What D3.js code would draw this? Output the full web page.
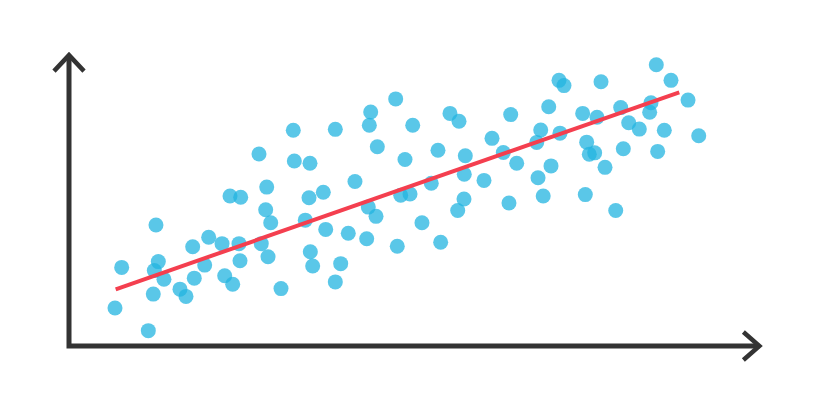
<!DOCTYPE html>
<html>
<head>
<meta charset="utf-8">
<script src="https://cdn.jsdelivr.net/npm/d3@7"></script>
<style>
  html, body { margin: 0; padding: 0; background: #ffffff; }
  svg { display: block; }
</style>
</head>
<body>
<svg id="chart" width="820" height="414"></svg>
<script>
// Data (arbitrary units 0-100 on both axes)
const xValues = [6.81,7.78,11.64,12.36,12.51,12.75,13.09,13.91,16.23,17.10,18.07,18.30,19.81,20.39,22.32,22.71,23.87,24.78,24.93,23.48,25.03,27.68,28.01,28.65,28.80,28.99,29.38,30.87,32.65,32.80,34.39,34.93,35.07,35.12,35.46,37.00,37.35,38.74,38.74,39.52,40.62,41.59,43.52,43.29,43.67,43.87,44.64,44.83,47.49,47.72,48.22,48.84,49.57,49.96,51.30,52.65,53.62,54.01,55.36,56.48,56.67,57.39,57.43,57.58,60.29,61.45,63.09,63.91,64.16,65.03,67.93,68.12,68.51,68.87,69.67,70.00,71.16,71.88,71.30,74.59,74.97,75.17,75.55,76.33,76.67,77.25,77.83,79.38,80.10,80.48,81.26,82.80,84.30,84.49,85.26,85.46,86.42,87.39,89.86,91.41];
const yValues = [13.1,27.1,5.3,17.9,26.0,41.7,29.1,23.0,19.6,17.1,34.2,23.4,27.9,37.5,35.3,24.2,21.3,35.3,29.4,51.7,51.3,66.2,35.3,47.0,54.8,30.8,42.5,19.8,74.4,63.8,43.4,51.1,63.0,32.5,27.6,53.0,40.2,74.7,22.1,28.4,38.9,56.7,47.9,37.0,76.1,80.7,44.7,68.7,85.2,34.4,52.0,64.3,52.4,76.1,42.5,56.1,67.5,35.8,80.2,46.7,77.5,50.7,59.2,65.6,57.1,71.6,66.7,49.3,79.8,63.0,70.2,58.0,74.5,51.7,82.5,62.1,91.6,89.8,73.4,80.2,52.2,70.3,66.1,66.6,78.9,91.1,61.6,46.7,82.2,68.0,77.0,74.8,80.6,83.9,97.0,67.1,74.4,91.6,84.8,72.5];
// Trend line endpoints
const trendX = [6.91, 88.59];
const trendY = [19.55, 87.48];

const points = xValues.map((x, i) => ({ x, y: yValues[i] }));
const trend = trendX.map((x, i) => ({ x, y: trendY[i] }));

const svg = d3.select("#chart");
const x = d3.scaleLinear().domain([0, 100]).range([68, 758]);
const y = d3.scaleLinear().domain([0, 100]).range([346, 56]);

// Axes with arrow heads
const axisColor = "#333333";
const x0 = x(0) + 1, y0 = y(0);
const yTop = y(100.3), xRight = x(100.2);
svg.append("path")
  .attr("d", `M${x0},${yTop} L${x0},${y0} L${xRight},${y0}`)
  .attr("fill", "none").attr("stroke", axisColor)
  .attr("stroke-width", 5).attr("stroke-linejoin", "miter");
svg.append("path")
  .attr("d", `M${x0 - 15},${yTop + 16} L${x0},${yTop} L${x0 + 15},${yTop + 16}`)
  .attr("fill", "none").attr("stroke", axisColor)
  .attr("stroke-width", 4.5).attr("stroke-linejoin", "miter");
svg.append("path")
  .attr("d", `M${xRight - 16},${y0 - 14} L${xRight},${y0} L${xRight - 16},${y0 + 14}`)
  .attr("fill", "none").attr("stroke", axisColor)
  .attr("stroke-width", 4.5).attr("stroke-linejoin", "miter");

// Points
svg.append("g").selectAll("circle").data(points).join("circle")
  .attr("cx", d => x(d.x))
  .attr("cy", d => y(d.y))
  .attr("r", 7.5)
  .attr("fill", "#23b4e0")
  .attr("fill-opacity", 0.75);

// Trend line
svg.append("path")
  .datum(trend)
  .attr("d", d3.line().x(d => x(d.x)).y(d => y(d.y)))
  .attr("fill", "none")
  .attr("stroke", "#f43f4f")
  .attr("stroke-width", 4);
</script>
</body>
</html>
